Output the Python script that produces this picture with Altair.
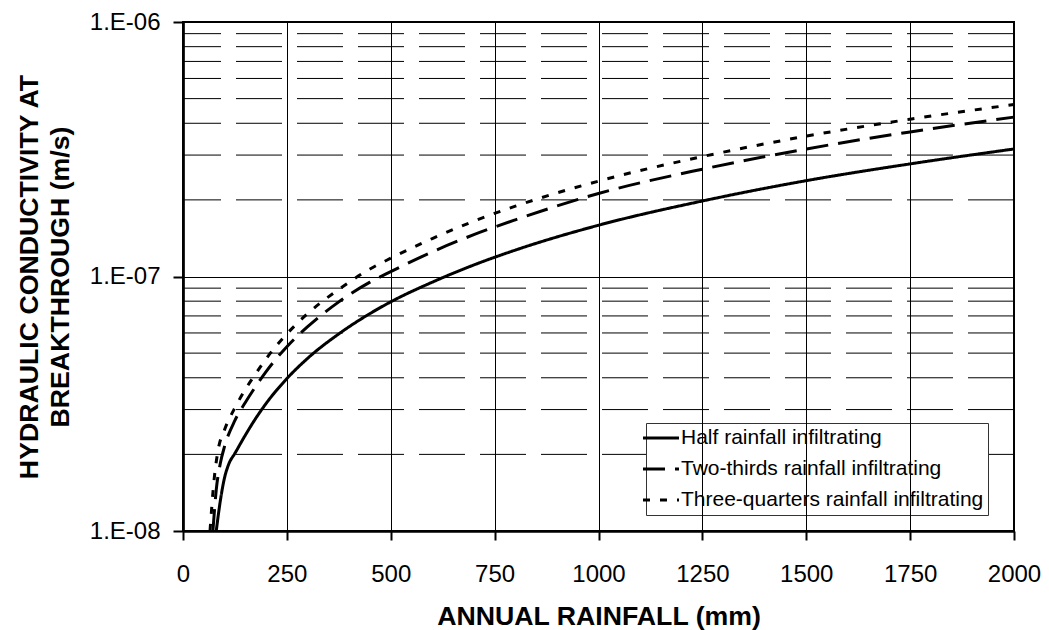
import altair as alt
import pandas as pd

# ---- data ----
series_names = [
    "Half rainfall infiltrating",
    "Two-thirds rainfall infiltrating",
    "Three-quarters rainfall infiltrating",
]

half_x = [80, 90, 100, 110, 125, 150, 175, 200, 250, 300, 375, 450, 500, 600, 700, 800, 1000, 1250, 1500, 1750, 2000]
half_k = [1.0e-8, 1.32e-8, 1.62e-8, 1.83e-8, 2.02e-8, 2.38e-8, 2.77e-8, 3.17e-8, 3.97e-8, 4.77e-8, 5.95e-8,
          7.15e-8, 7.95e-8, 9.5e-8, 1.11e-7, 1.27e-7, 1.59e-7, 1.98e-7, 2.38e-7, 2.77e-7, 3.17e-7]

two_x = [72, 80, 90, 100, 125, 150, 175, 200, 250, 300, 375, 450, 500, 600, 700, 800, 1000, 1250, 1500, 1750, 2000]
two_k = [1.0e-8, 1.45e-8, 1.85e-8, 2.15e-8, 2.72e-8, 3.2e-8, 3.7e-8, 4.23e-8, 5.3e-8, 6.35e-8, 7.95e-8,
         9.5e-8, 1.045e-7, 1.25e-7, 1.46e-7, 1.67e-7, 2.12e-7, 2.64e-7, 3.17e-7, 3.7e-7, 4.23e-7]

three_x = [65, 75, 85, 100, 125, 150, 175, 200, 250, 300, 375, 450, 500, 600, 700, 800, 1000, 1250, 1500, 1750, 2000]
three_k = [1.0e-8, 1.6e-8, 2.1e-8, 2.5e-8, 3.05e-8, 3.6e-8, 4.15e-8, 4.75e-8, 5.95e-8, 7.15e-8, 8.9e-8,
           1.07e-7, 1.18e-7, 1.41e-7, 1.65e-7, 1.89e-7, 2.37e-7, 2.96e-7, 3.56e-7, 4.15e-7, 4.74e-7]

x_ticks = [0, 250, 500, 750, 1000, 1250, 1500, 1750, 2000]
major_ticks = [1e-8, 1e-7, 1e-6]
minor_ticks = [2e-8, 3e-8, 4e-8, 5e-8, 6e-8, 7e-8, 8e-8, 9e-8,
               2e-7, 3e-7, 4e-7, 5e-7, 6e-7, 7e-7, 8e-7, 9e-7]

rows = []
for name, xs, ks in zip(series_names, [half_x, two_x, three_x], [half_k, two_k, three_k]):
    for xv, kv in zip(xs, ks):
        rows.append({"series": name, "rain": xv, "k": kv})
df = pd.DataFrame(rows)
minor_df = pd.DataFrame({"k": minor_ticks})

FONT = "Liberation Sans"
yscale = alt.Scale(type="log", domain=[1e-8, 1e-6], nice=False)
xscale = alt.Scale(domain=[0, 2000], nice=False, zero=False)

y_axis = alt.Axis(
    values=major_ticks,
    labelExpr="'1.E-0' + (-round(log(datum.value) / LN10))",
    title=["HYDRAULIC CONDUCTIVITY AT", "BREAKTHROUGH (m/s)"],
    titleFontSize=26.7,
    titleFontWeight="bold",
    titleBaseline="middle",
    titleLineHeight=31,
    titleX=-154,
    titleY=254.5,
    titleAngle=270,
    labelFontSize=24,
    labelPadding=13,
    labelFlush=False,
    labelOverlap=False,
    ticks=True,
    tickSize=10,
    tickWidth=2,
    tickColor="black",
    tickOpacity=1,
    domain=True,
    domainWidth=2.7,
    domainColor="black",
    grid=True,
    gridColor="black",
    gridWidth=1,
    gridOpacity=1,
    zindex=1,
)

x_axis = alt.Axis(
    values=x_ticks,
    format="d",
    title="ANNUAL RAINFALL (mm)",
    titleFontSize=26.7,
    titleFontWeight="bold",
    titleBaseline="alphabetic",
    titleY=93,
    labelFontSize=24,
    labelBaseline="alphabetic",
    labelPadding=41,
    labelFlush=False,
    labelOverlap=False,
    ticks=True,
    tickSize=9,
    tickWidth=2,
    tickColor="black",
    tickOpacity=1,
    domain=True,
    domainWidth=2.7,
    domainColor="black",
    grid=True,
    gridColor="black",
    gridWidth=1,
    gridOpacity=1,
    zindex=1,
)

minor = alt.Chart(minor_df).mark_rule(color="black", strokeWidth=1, strokeDash=[46, 15]).encode(
    y=alt.Y("k:Q", scale=yscale, axis=y_axis)
)

lines = alt.Chart(df).mark_line(strokeWidth=3, interpolate="monotone", color="black").encode(
    x=alt.X("rain:Q", scale=xscale, axis=x_axis),
    y=alt.Y("k:Q", scale=yscale, axis=y_axis),
    strokeDash=alt.StrokeDash(
        "series:N",
        sort=series_names,
        scale=alt.Scale(domain=series_names, range=[[1, 0], [22, 10], [7, 10]]),
        legend=alt.Legend(
            title=None,
            orient="none",
            legendX=463,
            legendY=401,
            symbolType="M-2,0H2",
            symbolSize=324,
            symbolStrokeWidth=3,
            symbolStrokeColor="black",
            labelFontSize=21,
            labelOffset=9.5,
            labelLimit=400,
            rowPadding=9,
            padding=4.5,
            strokeColor="#333333",
            fillColor="white",
        ),
    ),
)

chart = (
    alt.layer(minor, lines)
    .properties(
        width=831,
        height=509,
        autosize=alt.AutoSizeParams(type="none"),
        padding={"left": 175, "top": 14, "right": 27, "bottom": 100},
        background="white",
    )
    .configure(font=FONT)
    .configure_view(stroke="black", strokeWidth=2)
    .configure_axis(labelFont=FONT, titleFont=FONT, labelColor="black", titleColor="black")
    .configure_legend(labelFont=FONT, labelColor="black")
)

chart.save("out.html", embed_options={"renderer": "svg", "actions": False})
